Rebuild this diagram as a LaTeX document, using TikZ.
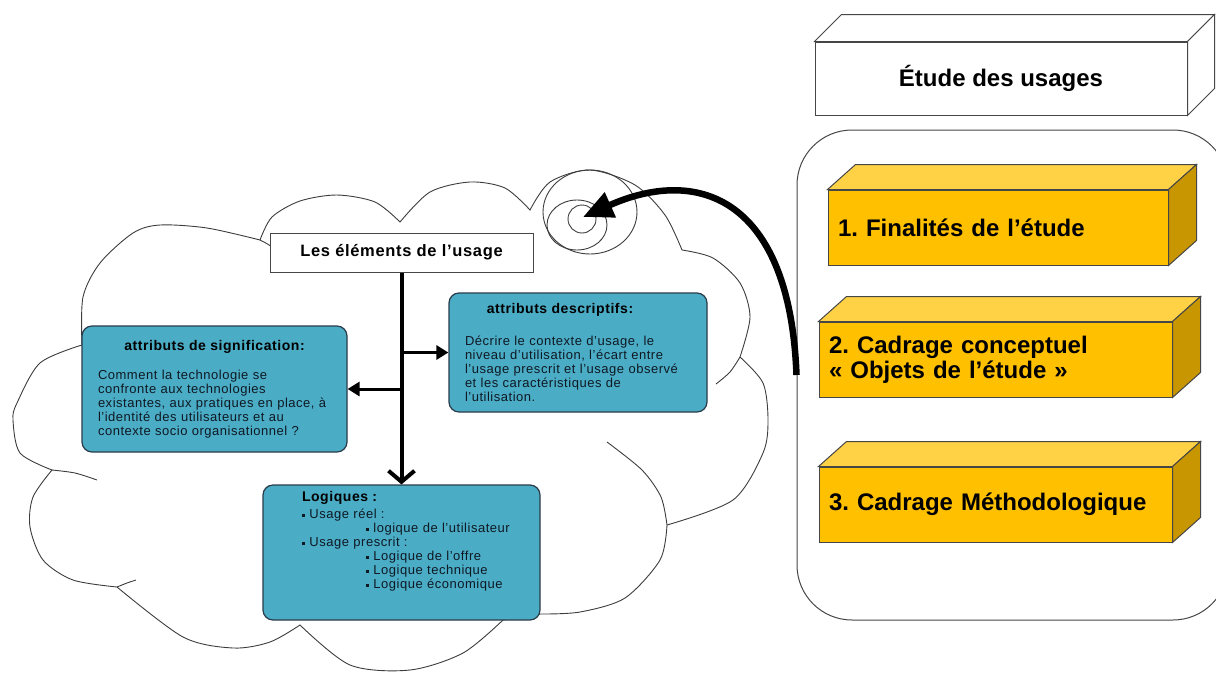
\documentclass[tikz,border=0pt]{standalone}
\usepackage{fontspec}
\setmainfont{Liberation Sans}
\newfontfamily\trackfont{Liberation Sans}[LetterSpace=4]
\usetikzlibrary{arrows.meta}

\definecolor{tealfill}{RGB}{75,172,198}
\definecolor{tealedge}{RGB}{40,60,75}
\definecolor{inkdark}{RGB}{15,25,35}
\definecolor{goldfront}{RGB}{255,192,0}
\definecolor{goldtop}{RGB}{255,210,70}
\definecolor{goldside}{RGB}{200,150,0}
\definecolor{edgegray}{RGB}{70,70,70}
\definecolor{cloudgray}{RGB}{60,60,60}

\newcommand{\sqbul}{\rule[0.25ex]{0.45ex}{0.45ex}}
\frenchspacing

\begin{document}
\begin{tikzpicture}[x=1pt,y=-1pt,
  cloud line/.style={draw=cloudgray,line width=0.9pt},
  panel node/.style={rectangle,rounded corners=55pt,draw=edgegray,line width=1pt,fill=white,minimum width=431pt,minimum height=490pt},
  head node/.style={rectangle,draw=edgegray,line width=1pt,fill=white,minimum width=372pt,minimum height=73pt,font=\fontsize{24}{28}\selectfont\bfseries},
  box face/.style={fill=white,draw=edgegray,line width=1pt},
  gold node/.style={rectangle,draw=edgegray,line width=1pt,fill=goldfront,minimum height=75pt,inner xsep=10pt,align=left,font=\fontsize{24}{25}\selectfont\bfseries},
  gold top/.style={fill=goldtop,draw=edgegray,line width=1pt},
  gold side/.style={fill=goldside,draw=edgegray,line width=1pt},
  teal node/.style={rectangle,rounded corners=10pt,draw=tealedge,line width=1.2pt,fill=tealfill,text=inkdark,align=left,font=\trackfont\fontsize{13}{14}\selectfont},
  label node/.style={rectangle,draw=edgegray,line width=1pt,fill=white,minimum width=263pt,minimum height=39pt,font=\trackfont\fontsize{16.5}{18}\selectfont\bfseries},
  stem/.style={line width=4pt},
  branch/.style={line width=3pt,-{Triangle[length=12pt,width=14pt]}},
  swirl arrow/.style={line width=6.5pt,-{Triangle[length=30pt,width=26pt]}}
]
\useasboundingbox (0,0) rectangle (1216,673);
\clip (0,0) rectangle (1216,673);

% right panel
\node[panel node] (panel) at (1012.5,375) {};

\node[head node] (head) at (1001,78.5) {Étude des usages};
\filldraw[box face] (head.north west) -- ([shift={(27,-27)}]head.north west) -- ([shift={(27,-27)}]head.north east) -- (head.north east) -- cycle;
\filldraw[box face] (head.north east) -- ([shift={(27,-27)}]head.north east) -- ([shift={(27,-27)}]head.south east) -- (head.south east) -- cycle;

\node[gold node,minimum width=340pt,text width=320pt] (fin) at (998,227.5) {1. Finalités de l’étude};
\filldraw[gold top] (fin.north west) -- ([shift={(28,-25)}]fin.north west) -- ([shift={(28,-25)}]fin.north east) -- (fin.north east) -- cycle;
\filldraw[gold side] (fin.north east) -- ([shift={(28,-25)}]fin.north east) -- ([shift={(28,-25)}]fin.south east) -- (fin.south east) -- cycle;

\node[gold node,minimum width=353pt,text width=333pt] (concept) at (995.5,359.5) {2. Cadrage conceptuel\\« Objets de l’étude »};
\filldraw[gold top] (concept.north west) -- ([shift={(28,-25)}]concept.north west) -- ([shift={(28,-25)}]concept.north east) -- (concept.north east) -- cycle;
\filldraw[gold side] (concept.north east) -- ([shift={(28,-25)}]concept.north east) -- ([shift={(28,-25)}]concept.south east) -- (concept.south east) -- cycle;

\node[gold node,minimum width=353pt,text width=333pt] (method) at (995.5,504.5) {3. Cadrage Méthodologique};
\filldraw[gold top] (method.north west) -- ([shift={(28,-25)}]method.north west) -- ([shift={(28,-25)}]method.north east) -- (method.north east) -- cycle;
\filldraw[gold side] (method.north east) -- ([shift={(28,-25)}]method.north east) -- ([shift={(28,-25)}]method.south east) -- (method.south east) -- cycle;

% cloud
\draw[cloud line]
  plot[smooth] coordinates {(82,345) (83,297) (100,263) (133,233) (160,225) (207,228) (260,240)}
  -- plot[smooth] coordinates {(260,240) (272,217) (300,201) (337,195) (375,202) (400,222)}
  -- plot[smooth] coordinates {(400,222) (430,192) (470,182) (505,188) (530,210)}
  -- plot[smooth] coordinates {(530,210) (550,182) (590,170) (635,185) (665,215) (682,250)}
  -- plot[smooth] coordinates {(682,250) (713,258) (740,283) (750,317) (740,357)}
  -- plot[smooth] coordinates {(740,357) (763,383) (768,420) (763,453) (733,500) (667,525)}
  -- plot[smooth] coordinates {(667,525) (660,560) (625,598) (580,612) (540,614)}
  -- plot[smooth] coordinates {(503,620) (463,653) (410,670) (350,665) (300,625)}
  -- plot[smooth] coordinates {(300,625) (270,642) (233,648) (183,637) (117,587)}
  -- plot[smooth] coordinates {(117,587) (73,580) (43,560) (30,527) (33,497) (52,470)}
  -- plot[smooth] coordinates {(52,470) (20,453) (13,420) (17,403) (40,363) (82,345)}
  -- cycle;
\draw[cloud line] (260,240) to[bend left=10] (282,256);
\draw[cloud line] plot[smooth] coordinates {(740,357) (730,372) (716,384)};
\draw[cloud line] plot[smooth] coordinates {(607,442) (642,470) (661,497) (667,525)};
\draw[cloud line] plot[smooth] coordinates {(117,587) (127,583) (136,580)};
\draw[cloud line] plot[smooth] coordinates {(52,470) (75,473) (97,480)};
\draw[cloud line] (590,212) ellipse [x radius=47pt,y radius=42pt];
\draw[cloud line] (577,225) ellipse [x radius=30pt,y radius=25pt];
\draw[cloud line] (582,219) circle [radius=14pt];
\coordinate (swirl) at (583,217);

% usage elements
\node[label node] (elem) at (401.5,252.5) {Les éléments de l’usage};

\node[teal node,minimum width=265pt,minimum height=126pt,text width=233pt,inner xsep=16pt] (signif) at (214.5,389)
  {{\centering\fontsize{14}{15}\selectfont\bfseries\color{black}attributs de signification:\par}\vspace{15pt}%
   Comment la technologie se\\confronte aux technologies\\existantes, aux pratiques en place, à\\l’identité des utilisateurs et au\\contexte socio organisationnel ?};

\node[teal node,minimum width=258pt,minimum height=119pt,text width=226pt,inner xsep=16pt] (descr) at (578,352.5)
  {{\centering\fontsize{14}{15}\selectfont\bfseries\color{black}attributs descriptifs:\hspace*{36pt}\par}\vspace{18pt}%
   Décrire le contexte d’usage, le\\niveau d’utilisation, l’écart entre\\l’usage prescrit et l’usage observé\\et les caractéristiques de\\l’utilisation.};

\node[teal node,minimum width=277pt,minimum height=135pt,text width=199pt,inner xsep=39pt] (logiq) at (401.5,552.5)
  {{\fontsize{14}{15}\selectfont\bfseries\color{black}Logiques :}\\[3pt]
   \sqbul\ Usage réel :\\
   \mbox{\hspace*{64pt}\sqbul\ logique de l’utilisateur}\\
   \sqbul\ Usage prescrit :\\
   \hspace*{64pt}\sqbul\ Logique de l’offre\\
   \hspace*{64pt}\sqbul\ Logique technique\\
   \mbox{\hspace*{64pt}\sqbul\ Logique économique}\par\vspace{22pt}};

\coordinate (jl) at (elem.south |- signif.east);
\coordinate (jr) at (elem.south |- descr.west);
\path[] (elem) [stem,-{Straight Barb[length=11pt,width=26pt]}] edge (logiq);
\path[] (jl) [branch] edge (signif);
\path[] (jr) [branch] edge (descr);

\draw[swirl arrow] (panel.west) .. controls (790,200) and (700,165) .. (swirl);
\end{tikzpicture}
\end{document}
